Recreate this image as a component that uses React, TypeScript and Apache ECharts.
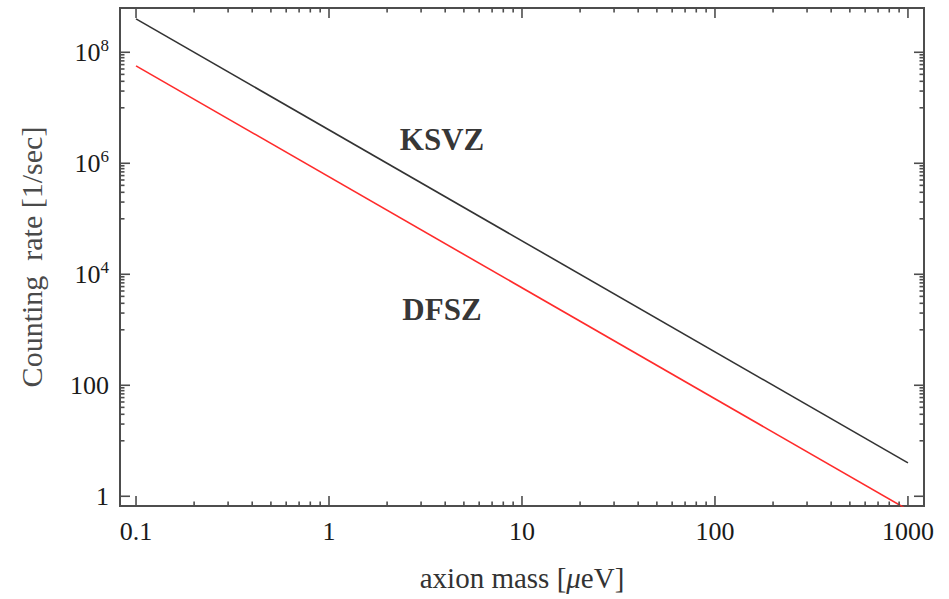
import React, { useEffect, useRef } from "react";
import * as echarts from "echarts";

// Axis ranges (log scales)
const X_MIN = 0.0826;
const X_MAX = 1211;
const Y_MIN = 0.668;
const Y_MAX = 6.28e8;

// Curves: axion mass [μeV] vs counting rate [1/sec]
const ksvzMass = [0.1, 1000];
const ksvzRate = [4.0e8, 4.0];
const dfszMass = [0.1, 1000];
const dfszRate = [5.7e7, 0.57];

// Curve name labels placed in data space
const curveLabelNames = ["KSVZ", "DFSZ"];
const curveLabelMass = [3.85, 3.85];
const curveLabelRate = [2.63e6, 2.28e3];

// Frame ticks
const xMajorTicks = [0.1, 1, 10, 100, 1000];
const yMajorTicks = [1, 100, 1e4, 1e6, 1e8];
const xMinorSteps = [2, 3, 4, 5, 6, 7, 8, 9];
const yMinorSteps = [1, 2, 3, 4, 5, 6, 7, 8, 9];

const FRAME = "#4d4d4d";
const SERIF = "'Liberation Serif', 'Times New Roman', serif";

function buildTicks() {
  const ticks: number[][] = [];
  xMajorTicks.forEach((v) => ticks.push([v, Y_MIN, 0, 1]));
  xMajorTicks.slice(0, -1).forEach((d) =>
    xMinorSteps.forEach((k) => ticks.push([d * k, Y_MIN, 0, 0]))
  );
  yMajorTicks.forEach((v) => ticks.push([X_MIN, v, 1, 1]));
  // minor ticks fill the upper decade below each major
  yMajorTicks.slice(1).forEach((d) =>
    yMinorSteps.forEach((k) => ticks.push([X_MIN, (d / 10) * k, 1, 0]))
  );
  return ticks;
}

function isPow10(v: number) {
  const l = Math.log10(v);
  return Math.abs(l - Math.round(l)) < 1e-6;
}

export default function App() {
  const ref = useRef<HTMLDivElement>(null);

  useEffect(() => {
    if (!ref.current) return;
    const chart = echarts.init(ref.current, null, { renderer: "svg" });

    const tickData = buildTicks();

    chart.setOption({
      animation: false,
      backgroundColor: "#ffffff",
      grid: {
        left: 120,
        top: 8,
        right: 25,
        bottom: 93,
        show: true,
        borderColor: FRAME,
        borderWidth: 2,
        backgroundColor: "transparent",
      },
      xAxis: {
        type: "log",
        logBase: 10,
        min: X_MIN,
        max: X_MAX,
        axisLine: { show: false },
        axisTick: { show: false },
        splitLine: { show: false },
        axisLabel: {
          margin: 12,
          fontFamily: SERIF,
          fontSize: 26,
          color: "#1a1a1a",
          formatter: (v: number) => {
            if (!isPow10(v)) return "";
            const e = Math.round(Math.log10(v));
            if (e < -1 || e > 3) return "";
            return e === -1 ? "0.1" : String(Math.pow(10, e));
          },
        },
        name: "axion mass [{i|μ}eV]",
        nameLocation: "middle",
        nameGap: 57,
        nameTextStyle: {
          fontFamily: SERIF,
          fontSize: 29,
          color: "#333",
          rich: {
            i: { fontFamily: SERIF, fontSize: 29, fontStyle: "italic", color: "#333" },
          },
        },
      },
      yAxis: {
        type: "log",
        logBase: 10,
        min: Y_MIN,
        max: Y_MAX,
        axisLine: { show: false },
        axisTick: { show: false },
        splitLine: { show: false },
        axisLabel: {
          margin: 11,
          fontFamily: SERIF,
          fontSize: 26,
          color: "#1a1a1a",
          formatter: (v: number) => {
            if (!isPow10(v)) return "";
            const e = Math.round(Math.log10(v));
            if (e < 0 || e > 8 || e % 2 !== 0) return "";
            if (e === 0) return "1";
            if (e === 2) return "100";
            return `{b|10}{s|${e}}`;
          },
          rich: {
            b: { fontFamily: SERIF, fontSize: 26, color: "#1a1a1a" },
            s: { fontFamily: SERIF, fontSize: 17, color: "#1a1a1a", padding: [0, 0, 14, 0] },
          },
        },
        name: "Counting  rate [1/sec]",
        nameLocation: "middle",
        nameGap: 74,
        nameTextStyle: {
          fontFamily: SERIF,
          fontSize: 30,
          color: "#4a4a4a",
        },
      },
      series: [
        {
          name: "KSVZ",
          type: "line",
          data: ksvzMass.map((m, i) => [m, ksvzRate[i]]),
          showSymbol: false,
          lineStyle: { color: "#333333", width: 1.6 },
          clip: true,
          z: 3,
        },
        {
          name: "DFSZ",
          type: "line",
          data: dfszMass.map((m, i) => [m, dfszRate[i]]),
          showSymbol: false,
          lineStyle: { color: "#ff2b2b", width: 1.6 },
          clip: true,
          z: 3,
        },
        {
          name: "curve labels",
          type: "scatter",
          symbolSize: 0,
          data: curveLabelNames.map((n, i) => ({
            name: n,
            value: [curveLabelMass[i], curveLabelRate[i]],
          })),
          label: {
            show: true,
            position: "inside",
            formatter: (p: any) => p.name,
            fontFamily: SERIF,
            fontWeight: "bold",
            fontSize: 31,
            color: "#000",
          },
          z: 4,
        },
        {
          name: "frame ticks",
          type: "custom",
          data: tickData,
          z: 5,
          renderItem: (_params: any, api: any) => {
            const a = api.value(0);
            const b = api.value(1);
            const kind = api.value(2);
            const len = api.value(3) ? 10 : 4.5;
            const style = { stroke: FRAME, lineWidth: 1.6 };
            if (kind === 0) {
              const lo = api.coord([a, Y_MIN]);
              const hi = api.coord([a, Y_MAX]);
              return {
                type: "group",
                children: [
                  { type: "line", shape: { x1: lo[0], y1: lo[1], x2: lo[0], y2: lo[1] - len }, style },
                  { type: "line", shape: { x1: hi[0], y1: hi[1], x2: hi[0], y2: hi[1] + len }, style },
                ],
              };
            }
            const l = api.coord([X_MIN, b]);
            const r = api.coord([X_MAX, b]);
            return {
              type: "group",
              children: [
                { type: "line", shape: { x1: l[0], y1: l[1], x2: l[0] + len, y2: l[1] }, style },
                { type: "line", shape: { x1: r[0], y1: r[1], x2: r[0] - len, y2: r[1] }, style },
              ],
            };
          },
        },
      ],
    });

    return () => chart.dispose();
  }, []);

  return (
    <div
      ref={ref}
      style={{ position: "fixed", left: 0, top: 0, width: 949, height: 599 }}
    />
  );
}
